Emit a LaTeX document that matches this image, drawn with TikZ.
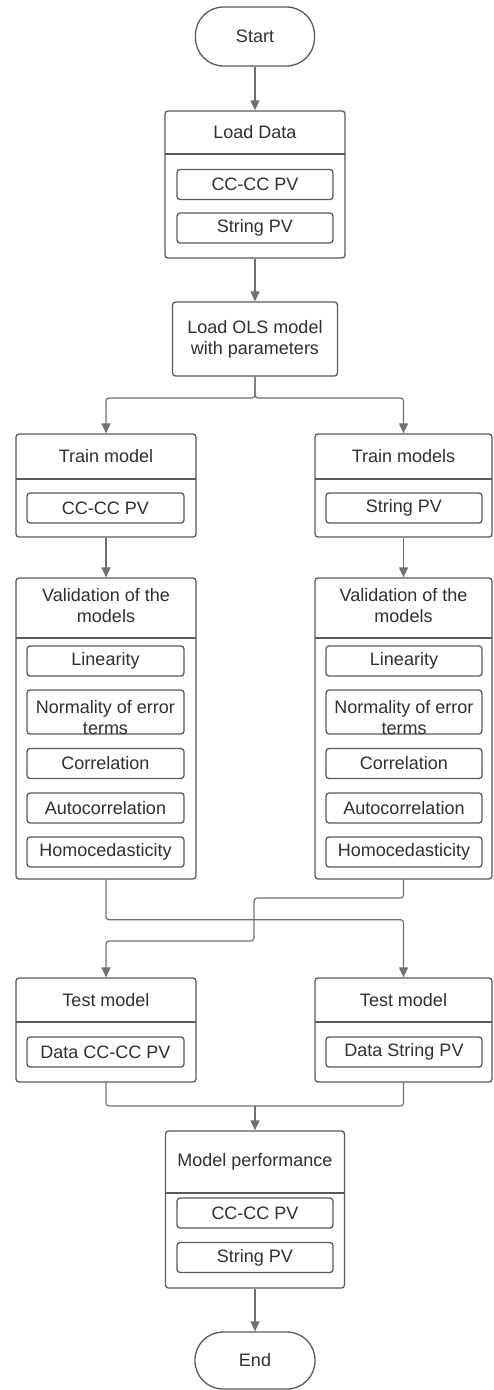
\documentclass[tikz,border=0pt]{standalone}
\usepackage{fontspec}
\setmainfont{Liberation Sans}
\usetikzlibrary{arrows.meta}
\definecolor{boxc}{HTML}{5A5A5A}
\definecolor{linec}{HTML}{707070}
\definecolor{txt}{HTML}{303030}
\begin{document}
\begin{tikzpicture}[x=1pt,y=-1pt, font=\fontsize{18}{21}\selectfont, text=txt,
  box/.style={draw=boxc,line width=1.3pt,rounded corners=3pt,inner sep=0pt,fill=white,align=center},
  inbox/.style={box,minimum height=30pt},
  term/.style={draw=boxc,line width=1.3pt,rounded corners=28pt,inner sep=0pt},
  lbl/.style={inner sep=0pt,align=center},
  divl/.style={draw=boxc,line width=1.3pt},
  conn/.style={draw=linec,line width=1.2pt,rounded corners=3pt},
  arr/.style={conn,-{Triangle[width=9pt,length=10pt]}}]
\useasboundingbox (0,0) rectangle (493,1390);

% Start
\node[term,minimum width=119pt,minimum height=59pt] (start) at (255,36.5) {Start};

% Load Data
\node[box,minimum width=180pt,minimum height=147pt] (ld) at (255,184.5) {};
\node[lbl] (ldh) at (255,132.5) {Load Data};
\draw[divl] (165,154) -- (345,154);
\node[inbox,minimum width=156pt] (ld1) at (255,184.5) {CC-CC PV};
\node[inbox,minimum width=156pt] (ld2) at (255,228) {String PV};

% OLS
\node[box,minimum width=165pt,minimum height=74pt] (ols) at (255,339) {Load OLS model\\with parameters};

% Train
\node[box,minimum width=180pt,minimum height=103pt] (trL) at (106,485.5) {};
\node[lbl] (trLh) at (106,456.5) {Train model};
\draw[divl] (16,479) -- (196,479);
\node[inbox,minimum width=157pt] (trL1) at (105.5,508) {CC-CC PV};

\node[box,minimum width=177pt,minimum height=103pt] (trR) at (403.5,485.5) {};
\node[lbl] (trRh) at (403.5,456.5) {Train models};
\draw[divl] (315,479) -- (492,479);
\node[inbox,minimum width=156pt] (trR1) at (404,508) {String PV};

% Validation left
\node[box,minimum width=180pt,minimum height=301pt] (vaL) at (106,728.5) {};
\node[lbl] (vaLh) at (106,606) {Validation of the\\models};
\draw[divl] (16,638) -- (196,638);
\node[inbox,minimum width=157pt] (vaL1) at (105.5,661) {};
\node[lbl] (vaL1t) at (105.5,661) {Linearity};
\node[inbox,minimum width=157pt,minimum height=44pt] (vaL2) at (105.5,712) {};
\node[lbl] (vaL2t) at (105.5,718) {Normality of error\\terms};
\node[inbox,minimum width=157pt] (vaL3) at (105.5,763.5) {Correlation};
\node[inbox,minimum width=157pt] (vaL4) at (105.5,808) {Autocorrelation};
\node[inbox,minimum width=157pt] (vaL5) at (105.5,852) {Homocedasticity};

% Validation right
\node[box,minimum width=177pt,minimum height=301pt] (vaR) at (403.5,728.5) {};
\node[lbl] (vaRh) at (403.5,606) {Validation of the\\models};
\draw[divl] (315,638) -- (492,638);
\node[inbox,minimum width=156pt] (vaR1) at (404,661) {Linearity};
\node[inbox,minimum width=156pt,minimum height=44pt] (vaR2) at (404,712) {};
\node[lbl] (vaR2t) at (404,718) {Normality of error\\terms};
\node[inbox,minimum width=156pt] (vaR3) at (404,763.5) {Correlation};
\node[inbox,minimum width=156pt] (vaR4) at (404,808) {Autocorrelation};
\node[inbox,minimum width=156pt] (vaR5) at (404,852) {Homocedasticity};

% Test
\node[box,minimum width=180pt,minimum height=104pt] (teL) at (106,1030) {};
\node[lbl] (teLh) at (106,1000) {Test model};
\draw[divl] (16,1022) -- (196,1022);
\node[inbox,minimum width=157pt] (teL1) at (105.5,1052) {Data CC-CC PV};

\node[box,minimum width=177pt,minimum height=104pt] (teR) at (403.5,1030) {};
\node[lbl] (teRh) at (403.5,1000) {Test model};
\draw[divl] (315,1022) -- (492,1022);
\node[inbox,minimum width=156pt] (teR1) at (404,1052) {Data String PV};

% Model performance
\node[box,minimum width=179pt,minimum height=157pt] (mp) at (255,1209.5) {};
\node[lbl] (mph) at (255,1162) {Model performance};
\draw[divl] (165,1193) -- (344,1193);
\node[inbox,minimum width=156pt] (mp1) at (255,1213) {CC-CC PV};
\node[inbox,minimum width=156pt] (mp2) at (255,1257.5) {String PV};

% End
\node[term,minimum width=120pt,minimum height=57pt] (end) at (255,1360.5) {End};

% connectors
\draw[arr] (start) -- (ld);
\draw[arr] (ld) -- (ols);
\coordinate (split) at (255,398);
\draw[arr] (ols.south) -- (split) -| (trL.north);
\draw[arr] (ols.south) -- (split) -| (trR.north);
\draw[arr] (trL) -- (vaL);
\draw[arr] (trR) -- (vaR);
\draw[arr] (vaL.south) -- ++(0,40) -| (teR.north);
\coordinate (c1) at (254,898);
\coordinate (c2) at (254,941);
\draw[arr] (vaR.south) |- (c1) -- (c2) -| (teL.north);
\coordinate (join) at (255,1106);
\draw[conn] (teL.south) |- (join);
\draw[conn] (teR.south) |- (join);
\draw[arr] (join) -- (mp.north);
\draw[arr] (mp) -- (end);
\end{tikzpicture}
\end{document}
